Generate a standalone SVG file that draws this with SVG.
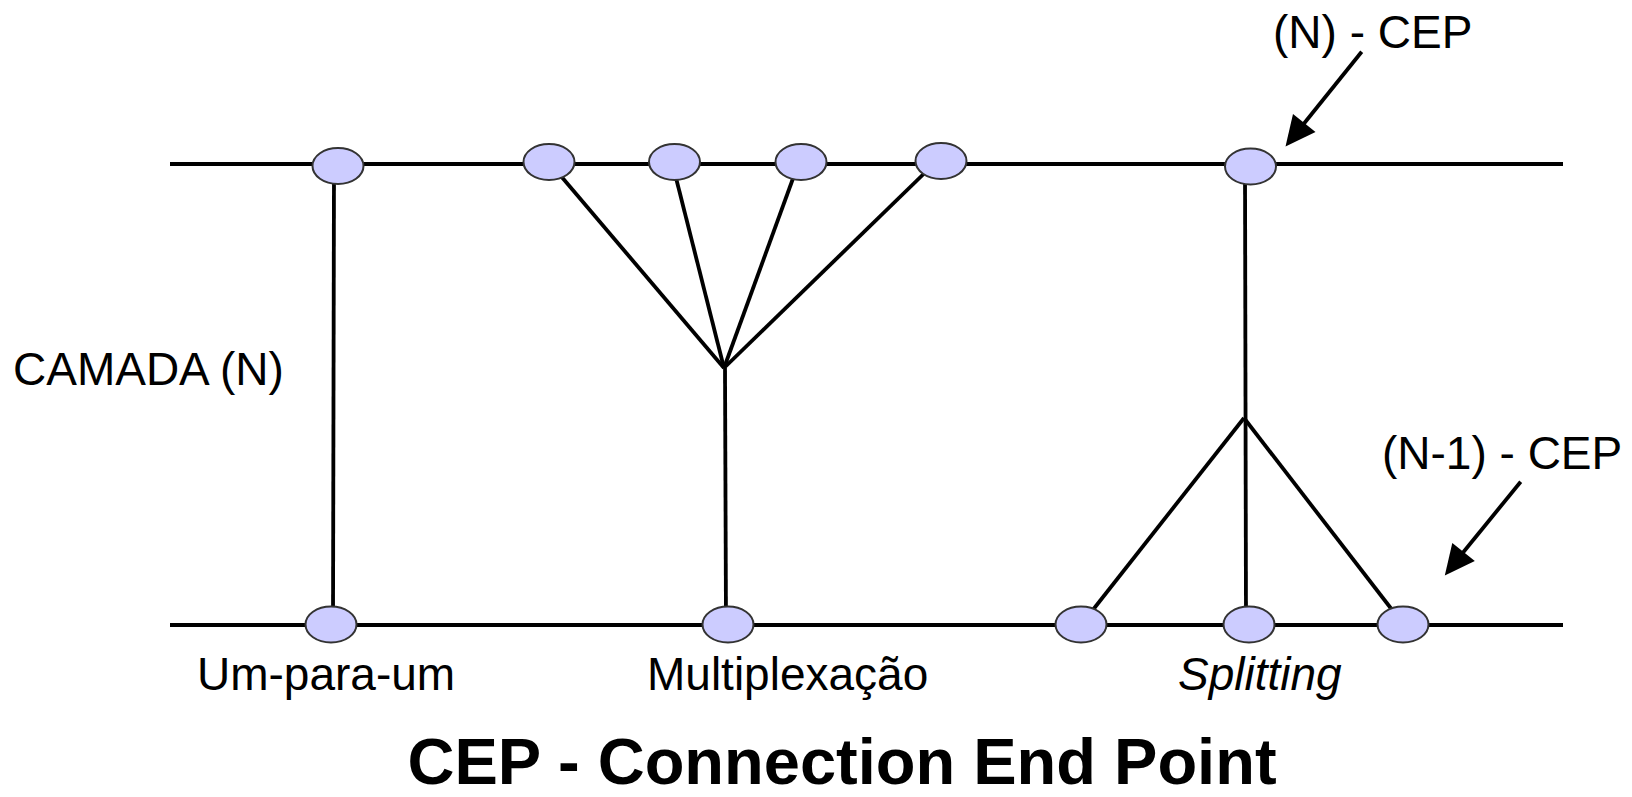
<svg xmlns="http://www.w3.org/2000/svg" width="1632" height="797" viewBox="0 0 1632 797">
<style>
.ln{stroke:#000;stroke-width:3.8;fill:none;stroke-linecap:butt}
.cep{fill:#ccccff;stroke:#333;stroke-width:2}
.t{font-family:"Liberation Sans",Arial,sans-serif;font-size:46px;fill:#000}
.ttl{font-family:"Liberation Sans",Arial,sans-serif;font-size:65px;font-weight:bold;fill:#000}
.arr{fill:#000;stroke:none}
</style>
<g id="connectors">
<line class="ln" x1="170" y1="164" x2="1563" y2="164"/>
<line class="ln" x1="170" y1="625" x2="1563" y2="625"/>
<line class="ln" x1="334" y1="166" x2="333" y2="625"/>
<line class="ln" x1="549" y1="162" x2="724" y2="368"/>
<line class="ln" x1="672" y1="162" x2="724" y2="368"/>
<line class="ln" x1="799" y1="162" x2="724" y2="368"/>
<line class="ln" x1="938" y1="160" x2="724" y2="368"/>
<line class="ln" x1="725" y1="368" x2="726" y2="625"/>
<line class="ln" x1="1245" y1="166" x2="1246" y2="625"/>
<line class="ln" x1="1244" y1="418" x2="1081" y2="625"/>
<line class="ln" x1="1244" y1="418" x2="1403" y2="624"/>
<line class="ln" x1="1361.7" y1="51.7" x2="1300" y2="128.5"/>
<polygon class="arr" points="1285.5,146.5 1315.5,132 1293,114"/>
<line class="ln" x1="1520.7" y1="481.7" x2="1459" y2="557.5"/>
<polygon class="arr" points="1444.8,575.5 1474.8,561 1452.3,543"/>
</g>
<g id="n-top-1"><ellipse class="cep" cx="338" cy="166" rx="25.5" ry="18"/></g>
<g id="n-top-2"><ellipse class="cep" cx="549" cy="162" rx="25.5" ry="18"/></g>
<g id="n-top-3"><ellipse class="cep" cx="674.5" cy="162" rx="25.5" ry="18"/></g>
<g id="n-top-4"><ellipse class="cep" cx="801" cy="162" rx="25.5" ry="18"/></g>
<g id="n-top-5"><ellipse class="cep" cx="941" cy="161" rx="25.5" ry="18"/></g>
<g id="n-top-6"><ellipse class="cep" cx="1250.5" cy="166.5" rx="25.5" ry="18"/></g>
<g id="n-bot-1"><ellipse class="cep" cx="331" cy="624.5" rx="25.5" ry="18"/></g>
<g id="n-bot-2"><ellipse class="cep" cx="728" cy="624.5" rx="25.5" ry="18"/></g>
<g id="n-bot-3"><ellipse class="cep" cx="1081" cy="624.5" rx="25.5" ry="18"/></g>
<g id="n-bot-4"><ellipse class="cep" cx="1249" cy="624.5" rx="25.5" ry="18"/></g>
<g id="n-bot-5"><ellipse class="cep" cx="1403" cy="624.5" rx="25.5" ry="18"/></g>
<g id="labels">
<text class="t" x="1273" y="48">(N) - CEP</text>
<text class="t" x="13" y="385">CAMADA (N)</text>
<text class="t" x="1382" y="469">(N-1) - CEP</text>
<text class="t" x="197" y="690">Um-para-um</text>
<text class="t" x="647" y="690">Multiplexação</text>
<text class="t" x="1178" y="690" font-style="italic">Splitting</text>
<text class="ttl" x="842" y="784" text-anchor="middle">CEP - Connection End Point</text>
</g>
</svg>
